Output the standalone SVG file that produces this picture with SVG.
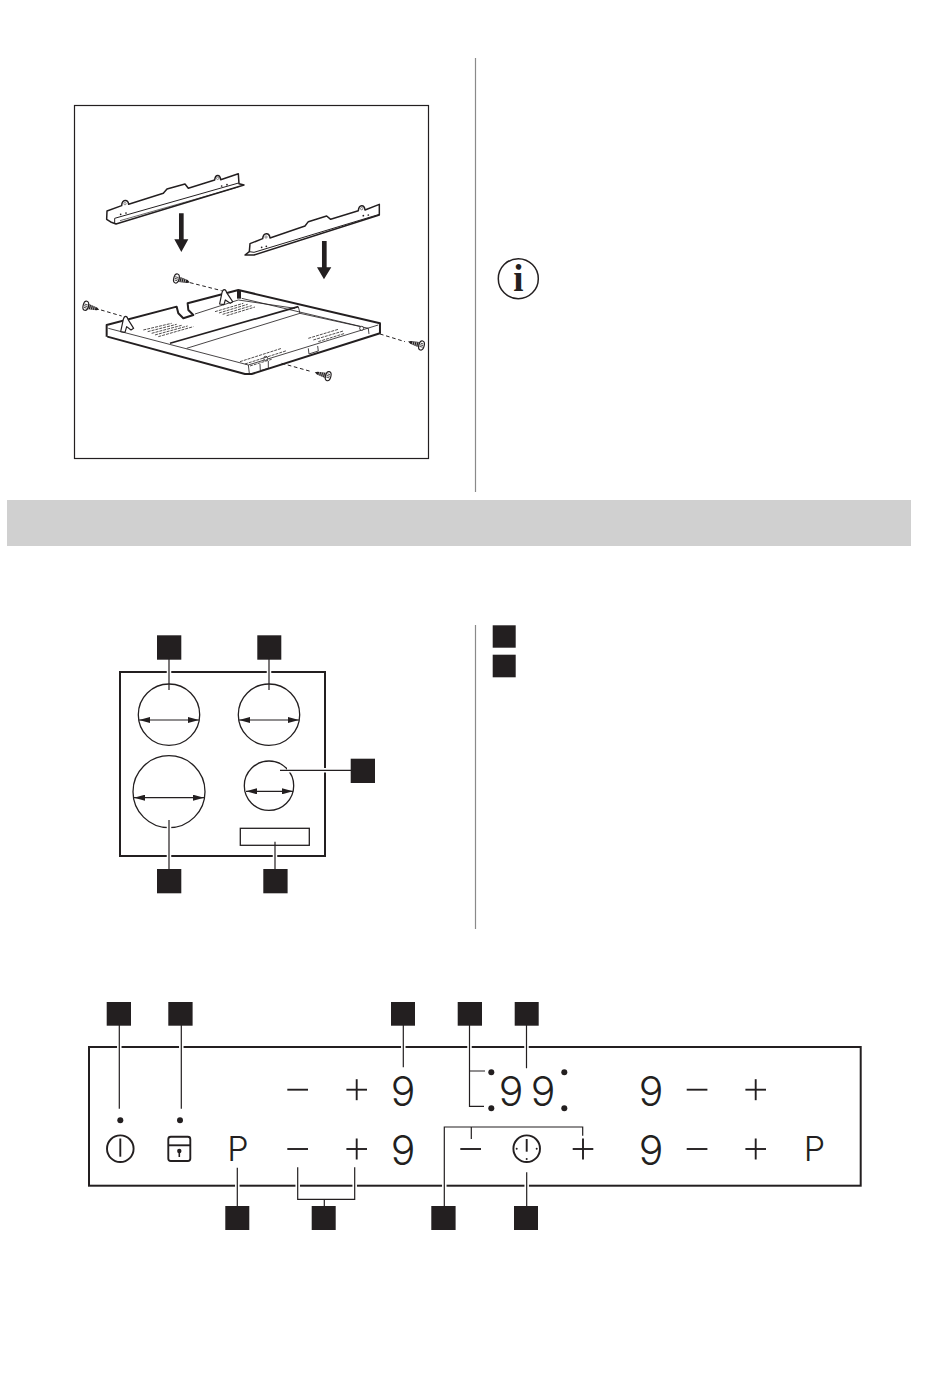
<svg xmlns="http://www.w3.org/2000/svg" width="950" height="1374" viewBox="0 0 950 1374">
<style>
.sq{fill:#231f20}
.ld{stroke:#231f20;stroke-width:1.2;fill:none}
.halo{stroke:#fff;stroke-width:4.5;fill:none}
.fr{stroke:#231f20;stroke-width:2;fill:#fff}
.thin{stroke:#231f20;stroke-width:1.3;fill:none}
.ctl{stroke:#231f20;stroke-width:1.9;fill:none}
.dot{fill:#231f20}
.dg{font-family:Inter,"Liberation Sans",sans-serif;font-weight:300;font-size:41px;fill:#231f20;text-anchor:middle}
.pl{font-family:Inter,"Liberation Sans",sans-serif;font-weight:300;font-size:34px;fill:#231f20;text-anchor:middle}
.il{stroke:#231f20;stroke-width:5;fill:#fff;stroke-linejoin:round}
.br{stroke:#231f20;stroke-width:4.5;fill:#fff;stroke-linejoin:round}
.il2{stroke:#231f20;stroke-width:2.5;fill:none}
.il3{stroke:#231f20;stroke-width:3;fill:none;stroke-dasharray:11 8}
.gr{stroke:#231f20;stroke-width:2.4;fill:none;stroke-dasharray:9 3}
</style>
<defs>
<marker id="ah" viewBox="0 0 11 6" refX="11" refY="3" markerWidth="11" markerHeight="6" markerUnits="userSpaceOnUse" orient="auto-start-reverse"><path d="M0 0L11 3L0 6Z" fill="#231f20"/></marker>
<g id="screw"><path d="M-6 -8L24 -4L32 1L24 5L-6 9Z" fill="#231f20"/><path d="M0 -7V8M6 -6V7M12 -5V6M18 -5V5" stroke="#fff" stroke-width="1.6"/><ellipse cx="-10" cy="0" rx="8" ry="14" fill="#fff" stroke="#231f20" stroke-width="3.5"/><path d="M-15 -4H-5M-15 1H-5M-14 6H-6" stroke="#231f20" stroke-width="2.2"/></g>
<g id="m"><line x1="0" x2="20.7" y1="0" y2="0" class="ctl"/></g>
<g id="p"><line x1="-10.3" x2="10.3" class="ctl"/><line y1="-10.5" y2="10.5" class="ctl"/></g>
</defs>

<g id="rules"><line x1="475.5" x2="475.5" y1="58" y2="492" stroke="#8a8a8a" stroke-width="1.2"/><line x1="475.5" x2="475.5" y1="625" y2="929" stroke="#8a8a8a" stroke-width="1.2"/></g>
<rect id="band" x="7" y="500" width="904" height="46" fill="#d0d0d0"/>

<g id="illustration">
<rect x="74.5" y="105.5" width="354" height="353" fill="#fff" stroke="#231f20" stroke-width="1.2"/>
<g id="bracket1" transform="translate(100 165) scale(.3333)">
<path class="br" d="M21 138L65 122C66 102 84 102 86 118L190 85L201 72L255 57L265 70L344 45C346 27 360 27 362 44L415 26L417 56L432 60L48 177L32 171L20 163Z"/>
<path d="M44 176L44 160L416 54" stroke="#231f20" stroke-width="3" fill="none"/>
<path d="M60 167L415 66" stroke="#231f20" stroke-width="2" fill="none"/>
<circle cx="62" cy="148" r="2.6" class="dot"/><circle cx="78" cy="144" r="2.6" class="dot"/><circle cx="365" cy="63" r="2.6" class="dot"/><circle cx="381" cy="59" r="2.6" class="dot"/>
<circle cx="75" cy="116" r="3.5" fill="#fff" stroke="#231f20" stroke-width="1.5"/><circle cx="353" cy="40" r="3.5" fill="#fff" stroke="#231f20" stroke-width="1.5"/>
</g>
<g id="bracket2" transform="translate(240 195) scale(.3333)">
<path class="br" d="M30 146L68 131C70 112 88 112 90 129L195 93L205 80L260 63L272 73L355 47C357 28 373 28 375 45L418 28L418 60L42 180L15 180L28 170Z"/>
<path d="M28 170L42 172L418 58" stroke="#231f20" stroke-width="3" fill="none"/>
<circle cx="65" cy="157" r="2.6" class="dot"/><circle cx="79" cy="154" r="2.6" class="dot"/><circle cx="370" cy="62" r="2.6" class="dot"/><circle cx="385" cy="60" r="2.6" class="dot"/>
<circle cx="78" cy="126" r="3.5" fill="#fff" stroke="#231f20" stroke-width="1.5"/><circle cx="365" cy="41" r="3.5" fill="#fff" stroke="#231f20" stroke-width="1.5"/>
</g>
<g transform="translate(75 160) scale(.3333)">
<path id="arrow1" d="M312 160H326V238H340L319 276L298 238H312Z" class="dot"/>
<path id="arrow2" d="M741 243H755V322H769L747 358L726 322H741Z" class="dot"/>
<g id="tray">
<path d="M95 495L305 440L310 460L325 475L355 465L340 450L338 430L490 390L913 490L915 520L530 642L510 642L97 530Z" fill="#fff"/>
<path d="M97 530L510 642H530L915 520V490L490 390L338 430L340 450L355 465L325 475L310 460L305 440L95 495V530" fill="none" stroke="#231f20" stroke-width="6" stroke-linejoin="round"/>
<path class="il2" d="M100 505L520 615L910 495M520 615L523 640M335 565L675 460L880 505M360 462L490 420L660 445M675 460L670 440M500 415L860 500M880 505L882 522"/>
<path d="M285 550L670 440" stroke="#231f20" stroke-width="5" fill="none"/>
<path d="M486 392H498V416H486Z" class="dot"/>
<path class="il2" d="M700 565L702 582L730 573L728 558M555 612L556 632L580 625L580 603"/>
<path d="M137 515L145 478C148 466 156 466 159 478L176 505L168 510L155 500L150 517Z M434 432L441 398C444 386 452 386 455 398L473 425L466 430L451 420L447 434Z" fill="#fff" stroke="#231f20" stroke-width="3.5" stroke-linejoin="round"/>
<circle cx="860" cy="505" r="6" fill="#fff" stroke="#231f20" stroke-width="2.5"/><circle cx="572" cy="595" r="6" fill="#fff" stroke="#231f20" stroke-width="2.5"/>
<path class="gr" d="M205 510L290 490M218 515L305 493M230 520L320 496M240 525L338 498M250 530L355 500M420 455L505 430M432 459L518 433M443 463L530 437M455 467L540 441M700 535L790 508M715 540L805 513M730 545L810 520M495 605L620 565M510 612L635 572M525 618L590 598"/>
</g>
<path class="il3" d="M78 450L140 468M345 368L440 392M915 522L990 545M620 610L710 635"/>
<use href="#screw" transform="translate(42 440) rotate(15)"/>
<use href="#screw" transform="translate(314 358) rotate(15)"/>
<use href="#screw" transform="translate(1030 554) rotate(195)"/>
<use href="#screw" transform="translate(750 646) rotate(195)"/>
</g>
</g>

<g id="info-icon"><circle cx="518.3" cy="278.7" r="20" fill="#fff" stroke="#231f20" stroke-width="1.5"/><text x="518.3" y="291" font-family="'Liberation Serif',serif" font-weight="700" font-size="37" text-anchor="middle" fill="#231f20">i</text></g>

<g id="side-keys"><rect class="sq" x="492.7" y="625.3" width="23" height="22.4"/><rect class="sq" x="492.7" y="654.7" width="23" height="22.6"/></g>

<g id="hob">
<rect class="fr" x="120" y="672" width="205" height="184"/>
<rect class="thin" x="240.3" y="828.3" width="69" height="17"/>
<g id="zones">
<circle class="thin" cx="169" cy="714.7" r="30.7"/><circle class="thin" cx="269" cy="714.7" r="30.7"/><circle class="thin" cx="169" cy="791.7" r="36"/><circle class="thin" cx="269" cy="785.7" r="24.7"/>
<g class="ld"><line x1="139" x2="199" y1="720" y2="720" marker-start="url(#ah)" marker-end="url(#ah)"/><line x1="239" x2="299" y1="720" y2="720" marker-start="url(#ah)" marker-end="url(#ah)"/><line x1="134" x2="204" y1="797.7" y2="797.7" marker-start="url(#ah)" marker-end="url(#ah)"/><line x1="246" x2="293" y1="791.3" y2="791.3" marker-start="url(#ah)" marker-end="url(#ah)"/></g>
</g>
<g id="hob-leaders">
<path class="halo" d="M169 668V676M269 668V676M169 852V860M275 852V860M321 770.3H329M169 824V831M287 770.3H293"/>
<path class="ld" d="M169 659V690M269 659V690M169 820V869M275 841.7V869M280 770.3H351"/>
</g>
<rect class="sq" x="157" y="635.3" width="24.3" height="24.4"/><rect class="sq" x="257.3" y="635.3" width="24" height="24.4"/><rect class="sq" x="350.7" y="758.7" width="24.3" height="24.3"/><rect class="sq" x="157" y="869" width="24.3" height="24.3"/><rect class="sq" x="263.3" y="869" width="24.3" height="24.3"/>
</g>

<g id="panel">
<rect class="fr" x="89" y="1047" width="771.7" height="138.7"/>
<g id="panel-leaders">
<path class="halo" d="M119.3 1043V1051M181.3 1043V1051M403.3 1043V1051M469.5 1043V1051M526.5 1043V1051M237.3 1182V1190M297.7 1182V1190M354.7 1182V1190M444.3 1182V1190M526.7 1182V1190"/>
<path class="ld" d="M119.3 1025V1108.7M181.3 1025V1108.7M403.3 1025V1067.3M485 1071H469.5V1025M469.5 1071V1106.3H484M526.5 1025V1068.3M237.3 1167.7V1206M297.7 1167.3V1199.3H354.7V1167.3M324.3 1199.3V1206M444.3 1206V1127H582.7V1135.7M471.3 1127V1139M526.7 1172.3V1206"/>
</g>
<g id="top-labels"><rect class="sq" x="106.7" y="1002" width="24.3" height="23.7"/><rect class="sq" x="168.3" y="1002" width="24.3" height="23.7"/><rect class="sq" x="391" y="1002" width="24" height="23.7"/><rect class="sq" x="457.7" y="1002" width="24.3" height="23.7"/><rect class="sq" x="514.7" y="1002" width="24" height="23.7"/></g>
<g id="bottom-labels"><rect class="sq" x="225.3" y="1206" width="24" height="24"/><rect class="sq" x="311.7" y="1206" width="24" height="24"/><rect class="sq" x="431.3" y="1206" width="24.3" height="24"/><rect class="sq" x="514" y="1206" width="24" height="24"/></g>
<g id="indicators"><circle class="dot" cx="120.3" cy="1120.3" r="3"/><circle class="dot" cx="180" cy="1120.3" r="3"/><circle class="dot" cx="491.3" cy="1072.3" r="3"/><circle class="dot" cx="491.3" cy="1108.3" r="3"/><circle class="dot" cx="564.3" cy="1072.3" r="3"/><circle class="dot" cx="564.3" cy="1108.3" r="3"/></g>
<g id="power"><circle class="ctl" cx="120.3" cy="1148.7" r="13.3"/><line class="ctl" x1="120.3" x2="120.3" y1="1138.5" y2="1156.7"/></g>
<g id="lock"><rect class="ctl" x="168.3" y="1136.7" width="22" height="24.3" rx="2.5"/><line class="ctl" x1="168.3" x2="190.3" y1="1145.3" y2="1145.3"/><circle class="dot" cx="179.3" cy="1151" r="2.2"/><line x1="179.3" x2="179.3" y1="1151" y2="1157" stroke="#231f20" stroke-width="1.6"/></g>
<g id="timer"><circle class="ctl" cx="526.7" cy="1148.7" r="13.3"/><line class="ctl" x1="526.7" x2="526.7" y1="1139" y2="1151.7"/><circle class="dot" cx="516.7" cy="1148.7" r="1"/><circle class="dot" cx="536.7" cy="1148.7" r="1"/><circle class="dot" cx="526.7" cy="1159" r="1"/></g>
<g id="minus-keys"><use href="#m" x="287.3" y="1089.7"/><use href="#m" x="287.3" y="1149"/><use href="#m" x="460.3" y="1149"/><use href="#m" x="686.7" y="1089.7"/><use href="#m" x="686.7" y="1149"/></g>
<g id="plus-keys"><use href="#p" x="356.7" y="1089.7"/><use href="#p" x="356.7" y="1149"/><use href="#p" x="583" y="1149"/><use href="#p" x="755.7" y="1089.7"/><use href="#p" x="755.7" y="1149"/></g>
<g id="digits"><text class="dg" x="403.2" y="1105.7">9</text><text class="dg" x="403.2" y="1165.3">9</text><text class="dg" x="511" y="1105.7">9</text><text class="dg" x="543" y="1105.7">9</text><text class="dg" x="651" y="1105.7">9</text><text class="dg" x="651" y="1165.3">9</text></g>
<g id="p-keys"><text class="pl" x="238" y="1160.8">P</text><text class="pl" x="814.5" y="1160.8">P</text></g>
</g>
</svg>
